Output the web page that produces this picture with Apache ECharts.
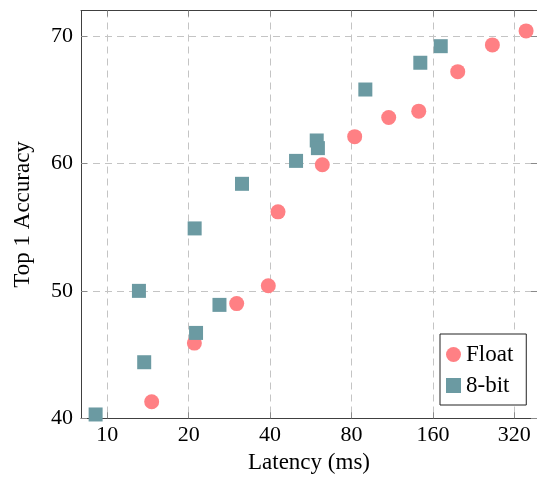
<!DOCTYPE html>
<html>
<head>
<meta charset="utf-8">
<script src="https://cdn.jsdelivr.net/npm/echarts@6/dist/echarts.min.js"></script>
<style>html,body{margin:0;padding:0;background:#fff}#c{width:537px;height:483px}</style>
</head>
<body>
<div id="c"></div>
<script>
// Data (latency in ms, top-1 accuracy in %)
const floatLatency = [14.6, 21.0, 30.1, 39.4, 42.8, 62.4, 82.2, 109.8, 141.8, 197.6, 265.4, 353.6];
const floatAccuracy = [41.3, 45.9, 49.0, 50.4, 56.2, 59.9, 62.1, 63.6, 64.1, 67.2, 69.3, 70.4];
const int8Latency = [9.06, 13.1, 13.7, 21.3, 21.05, 26.0, 31.5, 49.9, 59.5, 60.1, 90.0, 143.7, 171.0];
const int8Accuracy = [40.3, 50.0, 44.4, 46.7, 54.9, 48.9, 58.4, 60.2, 61.8, 61.2, 65.8, 67.9, 69.2];
const xTickLabels = [10, 20, 40, 80, 160, 320];
const yTickLabels = [40, 50, 60, 70];
const seriesNames = ['Float', '8-bit'];

// log2 axis relative to 10 ms
const lg = v => Math.log2(v / 10);
const xTicks = xTickLabels.map(lg);
const XMIN = lg(8.0), XMAX = lg(388);
const FONT = "'Liberation Serif','Times New Roman',serif";

const gridLine = {show: true, lineStyle: {color: '#c4c4c4', type: [7, 5], width: 1}};
const tickStyle = {show: true, inside: true, length: 6, lineStyle: {color: '#8a8a8a', width: 1}};
const axisLineStyle = {show: true, onZero: false, lineStyle: {color: '#404040', width: 1}};

const chart = echarts.init(document.getElementById('c'), null, {renderer: 'canvas'});
chart.setOption({
  animation: false,
  backgroundColor: '#fff',
  textStyle: {fontFamily: FONT},
  grid: {left: 81, top: 10.5, right: 0, bottom: 64.7, containLabel: false},
  legend: {
    orient: 'vertical', left: 440, top: 334,
    padding: [9, 13, 8, 6], itemGap: 8, itemWidth: 15, itemHeight: 15,
    borderColor: '#222', borderWidth: 1, backgroundColor: '#fff',
    textStyle: {fontFamily: FONT, fontSize: 23, color: '#000', lineHeight: 23},
    data: [{name: seriesNames[0], icon: 'circle'}, {name: seriesNames[1], icon: 'rect'}]
  },
  xAxis: [{
    type: 'value', position: 'bottom', min: XMIN, max: XMAX,
    name: 'Latency (ms)', nameLocation: 'middle', nameGap: 30,
    nameTextStyle: {fontFamily: FONT, fontSize: 23, color: '#000'},
    axisLine: axisLineStyle,
    axisTick: Object.assign({customValues: xTicks}, tickStyle),
    splitLine: gridLine,
    axisLabel: {customValues: xTicks, margin: 6, fontFamily: FONT, fontSize: 22, color: '#000',
      formatter: v => String(Math.round(10 * Math.pow(2, v)))}
  }, {
    type: 'value', position: 'top', min: XMIN, max: XMAX,
    axisLine: axisLineStyle,
    axisTick: Object.assign({customValues: xTicks}, tickStyle),
    splitLine: {show: false}, axisLabel: {show: false}
  }],
  yAxis: [{
    type: 'value', position: 'left', min: 40, max: 72,
    name: 'Top 1 Accuracy', nameLocation: 'middle', nameGap: 47, nameRotate: 90,
    nameTextStyle: {fontFamily: FONT, fontSize: 23, color: '#000'},
    axisLine: axisLineStyle,
    axisTick: Object.assign({customValues: yTickLabels}, tickStyle),
    splitLine: gridLine,
    axisLabel: {customValues: yTickLabels, margin: 8, fontFamily: FONT, fontSize: 22, color: '#000'}
  }, {
    type: 'value', position: 'right', min: 40, max: 72,
    axisLine: axisLineStyle,
    axisTick: Object.assign({customValues: yTickLabels}, tickStyle),
    splitLine: {show: false}, axisLabel: {show: false}
  }],
  series: [{
    name: seriesNames[0], type: 'scatter', symbol: 'circle', symbolSize: 15,
    itemStyle: {color: '#ff8084', opacity: 1},
    data: floatLatency.map((l, i) => [lg(l), floatAccuracy[i]]), z: 3
  }, {
    name: seriesNames[1], type: 'scatter', symbol: 'rect', symbolSize: 14,
    itemStyle: {color: '#6b9aa2', opacity: 1},
    data: int8Latency.map((l, i) => [lg(l), int8Accuracy[i]]), z: 4
  }]
});
</script>
</body>
</html>
